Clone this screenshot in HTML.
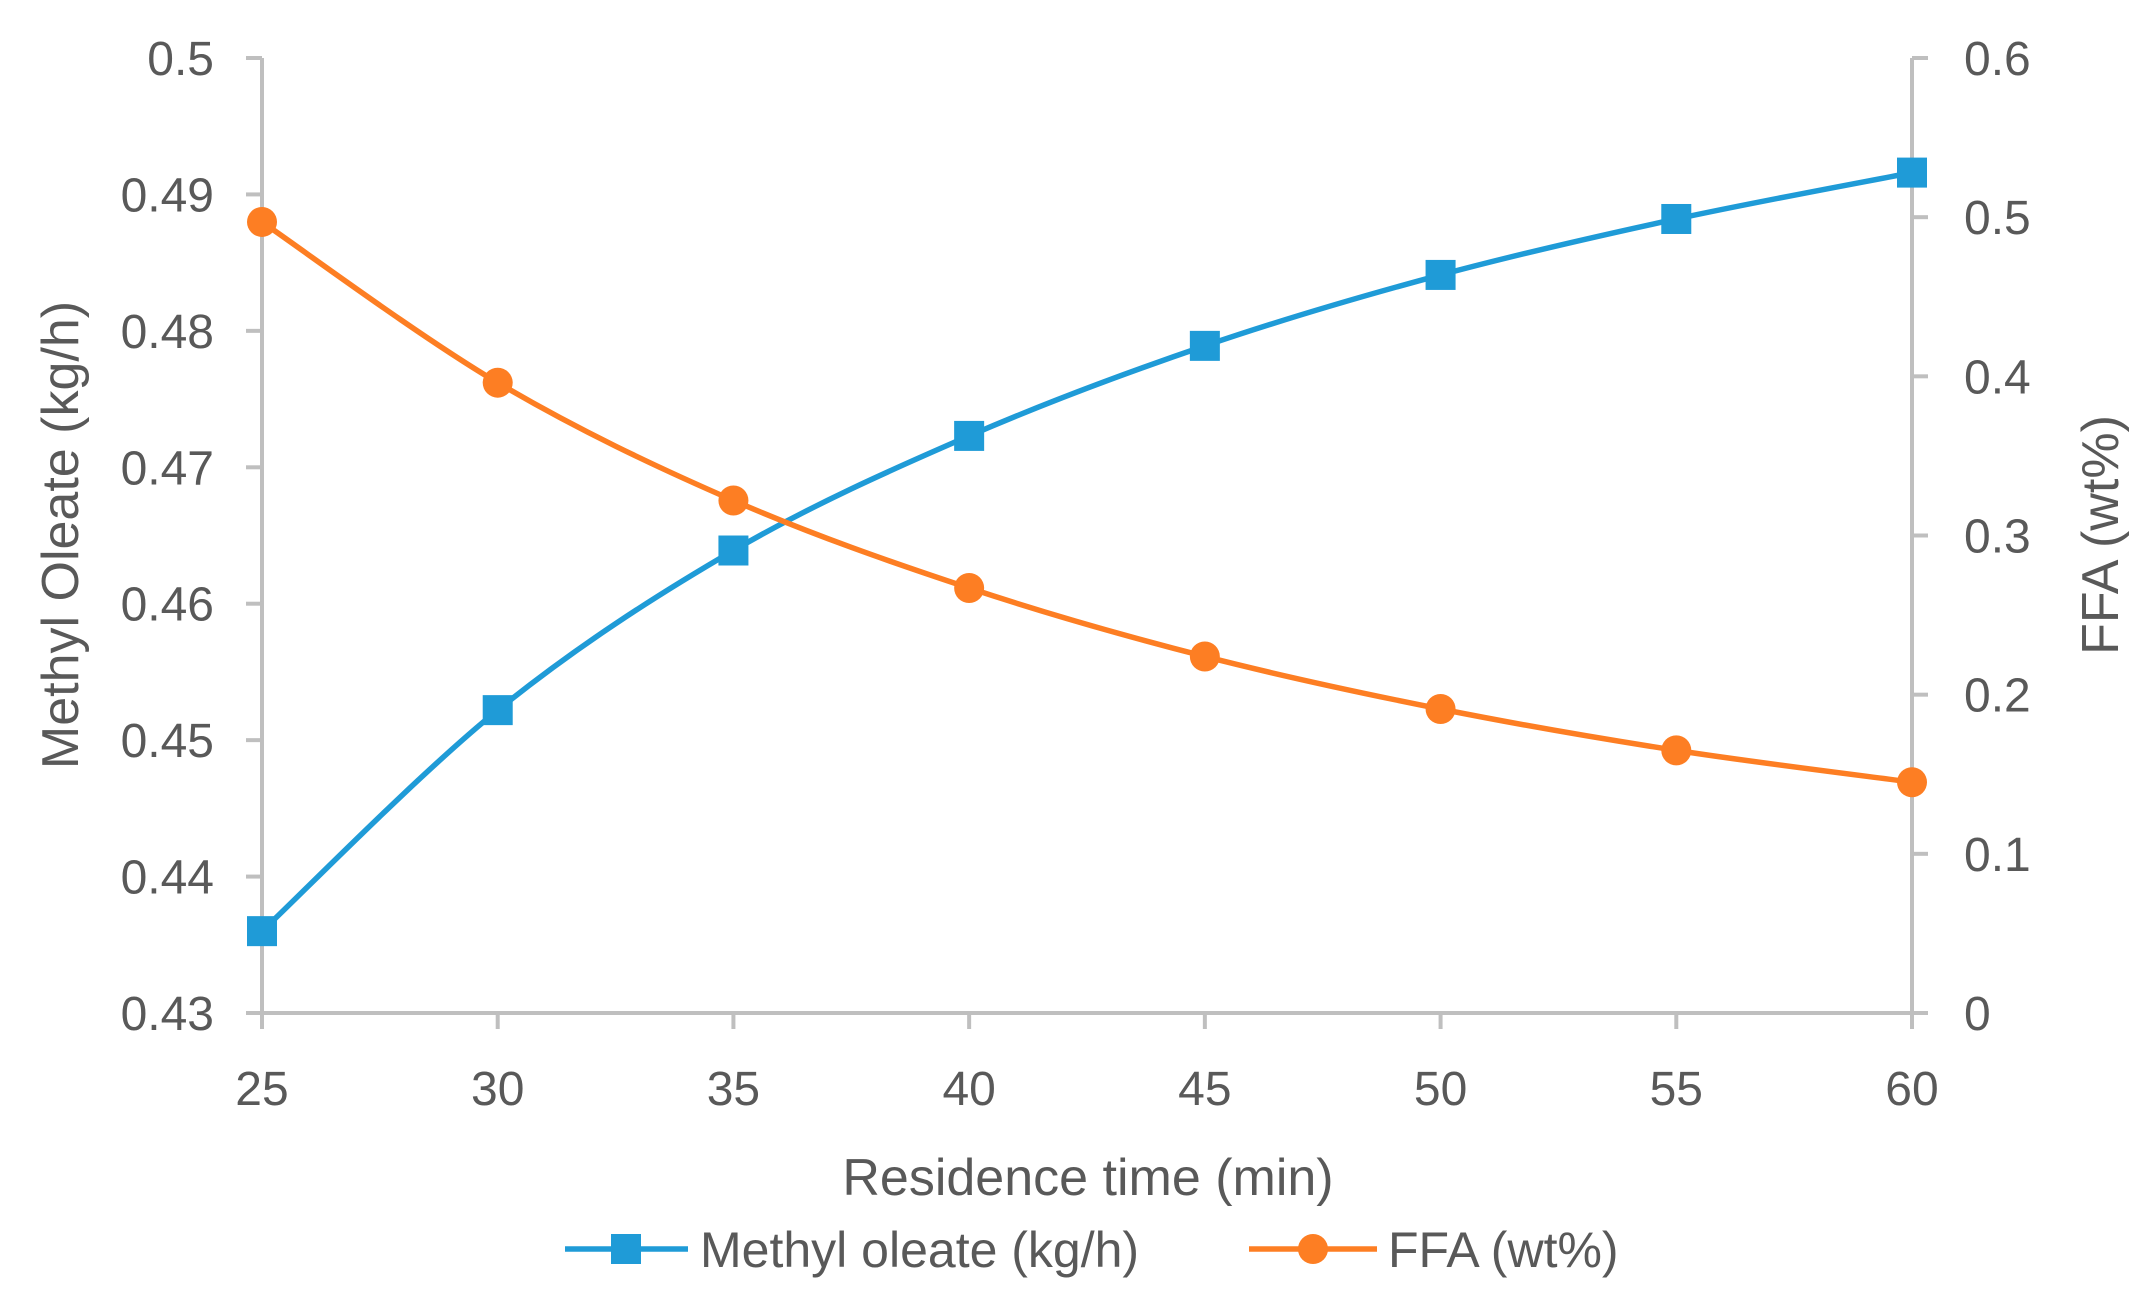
<!DOCTYPE html>
<html><head><meta charset="utf-8"><style>
html,body{margin:0;padding:0;background:#fff;}
svg text{font-family:"Liberation Sans",sans-serif;fill:#595959;}
</style></head><body>
<svg id="chart" width="2148" height="1295" xmlns="http://www.w3.org/2000/svg">
<g id="grid"></g><g id="series"></g>
<text x="1088" y="1195" font-size="52" text-anchor="middle">Residence time (min)</text>
<text transform="translate(78,535) rotate(-90)" font-size="52" text-anchor="middle">Methyl Oleate (kg/h)</text>
<text transform="translate(2118,535) rotate(-90)" font-size="52" text-anchor="middle">FFA (wt%)</text>
<g>
<g>
<line x1="565" y1="1249" x2="688" y2="1249" stroke="#1f9bd7" stroke-width="5.5"/>
<rect x="611" y="1234" width="30" height="30" fill="#1f9bd7"/>
<text x="700" y="1267" font-size="50">Methyl oleate (kg/h)</text></g>
<g>
<line x1="1249" y1="1249" x2="1377" y2="1249" stroke="#fd7e23" stroke-width="5.5"/>
<circle cx="1313" cy="1249" r="15" fill="#fd7e23"/>
<text x="1388" y="1267" font-size="50">FFA (wt%)</text></g>
</g>
</svg>
<script>
const xCats=[25,30,35,40,45,50,55,60];
const methylOleate=[0.436,0.4522,0.4639,0.4723,0.4789,0.4841,0.4882,0.4916];
const ffa=[0.497,0.396,0.322,0.267,0.224,0.191,0.165,0.145];
const leftTicks=["0.43","0.44","0.45","0.46","0.47","0.48","0.49","0.5"];
const rightTicks=["0","0.1","0.2","0.3","0.4","0.5","0.6"];
const X0=262,X1=1912,YT=58,YB=1013;
const NS='http://www.w3.org/2000/svg';
const xs=v=>X0+(v-25)/(60-25)*(X1-X0);
const yl=v=>YB-(v-0.43)/(0.5-0.43)*(YB-YT);
const yr=v=>YB-v/0.6*(YB-YT);
function mk(t,a,p){const e=document.createElementNS(NS,t);for(const k in a)e.setAttribute(k,a[k]);p.appendChild(e);return e;}
const g=document.getElementById('grid'),s=document.getElementById('series');
const ax=mk('line',{x1:X0,y1:YT,x2:X0,y2:YB,stroke:'#bfbfbf','stroke-width':4},g);


const ax2=mk('line',{x1:X1,y1:YT,x2:X1,y2:YB,stroke:'#bfbfbf','stroke-width':4},g);


const ax3=mk('line',{x1:X0-16,y1:YB,x2:X1+16,y2:YB,stroke:'#bfbfbf','stroke-width':4},g);


leftTicks.forEach(t=>{const y=yl(+t);mk('line',{x1:X0-16,y1:y,x2:X0,y2:y,stroke:'#bfbfbf','stroke-width':4},g);
const tx=mk('text',{x:214,y:y+17,'font-size':48,'text-anchor':'end'},g);tx.textContent=t;

});
rightTicks.forEach(t=>{const y=yr(+t);mk('line',{x1:X1,y1:y,x2:X1+16,y2:y,stroke:'#bfbfbf','stroke-width':4},g);
const tx=mk('text',{x:1964,y:y+17,'font-size':48,'text-anchor':'start'},g);tx.textContent=t;

});
xCats.forEach(c=>{const x=xs(c);mk('line',{x1:x,y1:YB,x2:x,y2:YB+16,stroke:'#bfbfbf','stroke-width':4},g);
const tx=mk('text',{x:x,y:1105,'font-size':48,'text-anchor':'middle'},g);tx.textContent=c;

});
function smooth(p){let d='M'+p[0][0]+','+p[0][1];for(let i=0;i<p.length-1;i++){const a=p[i-1]||p[i],b=p[i],c=p[i+1],e=p[i+2]||c;
d+=' C'+(b[0]+(c[0]-a[0])/6)+','+(b[1]+(c[1]-a[1])/6)+' '+(c[0]-(e[0]-b[0])/6)+','+(c[1]-(e[1]-b[1])/6)+' '+c[0]+','+c[1];}return d;}
const pm=xCats.map((c,i)=>[xs(c),yl(methylOleate[i])]);
const pf=xCats.map((c,i)=>[xs(c),yr(ffa[i])]);
const l1=mk('path',{d:smooth(pm),fill:'none',stroke:'#1f9bd7','stroke-width':5.5},s);


const l2=mk('path',{d:smooth(pf),fill:'none',stroke:'#fd7e23','stroke-width':5.5},s);


pm.forEach(p=>{const r=mk('rect',{x:p[0]-15,y:p[1]-15,width:30,height:30,fill:'#1f9bd7'},s);

});
pf.forEach(p=>{const c=mk('circle',{cx:p[0],cy:p[1],r:15,fill:'#fd7e23'},s);

});
</script>
</body></html>
